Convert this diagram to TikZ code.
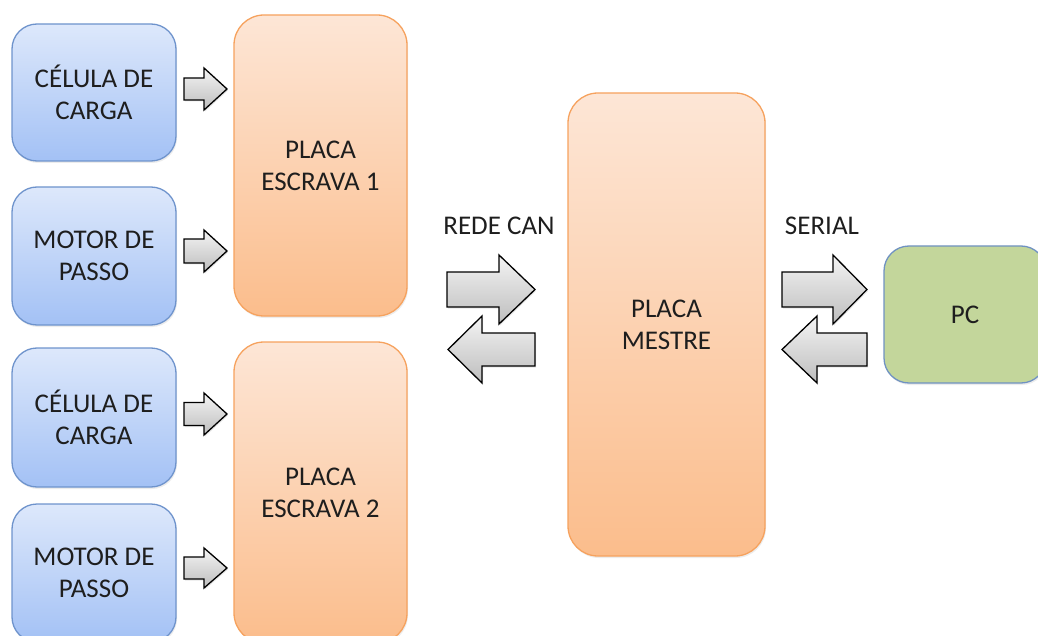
\documentclass[tikz,border=0pt]{standalone}
\usepackage{fontspec}
\setmainfont{Carlito}
\usetikzlibrary{shadows}
\definecolor{txt}{HTML}{1E1E1E}
\definecolor{bluetop}{HTML}{DDE8FB}
\definecolor{bluebot}{HTML}{A3C1F5}
\definecolor{blueline}{HTML}{6E93CC}
\definecolor{orgtop}{HTML}{FDE6D6}
\definecolor{orgbot}{HTML}{FBBD8C}
\definecolor{orgline}{HTML}{F6A25E}
\definecolor{pcfill}{HTML}{C3D69B}
\definecolor{pcline}{HTML}{7092C2}
\definecolor{arrtop}{HTML}{F4F4F4}
\definecolor{arrbot}{HTML}{BDBDBD}
\tikzset{
  boxtext/.style={font=\fontsize{27}{32}\selectfont, text=txt, align=center},
  bluebox/.style={boxtext, draw=blueline, line width=1.3pt, rounded corners=25pt,
    top color=bluetop, bottom color=bluebot, minimum width=164pt,
    drop shadow={shadow xshift=1pt, shadow yshift=-2pt, opacity=0.15}},
  orgbox/.style={boxtext, draw=orgline, line width=1.3pt, rounded corners=30pt,
    top color=orgtop, bottom color=orgbot,
    drop shadow={shadow xshift=1pt, shadow yshift=-2pt, opacity=0.15}},
  pcbox/.style={boxtext, draw=pcline, line width=1.3pt, rounded corners=25pt,
    fill=pcfill, drop shadow={shadow xshift=1pt, shadow yshift=-2pt, opacity=0.15}},
  arrowstyle/.style={draw=black, line width=1.3pt, line join=miter,
    top color=arrtop, bottom color=arrbot,
    drop shadow={shadow xshift=1pt, shadow yshift=-1.5pt, opacity=0.2}},
  lbl/.style={font=\fontsize{27}{32}\selectfont, text=txt}
}
% #1 shaft start x, #2 head base x, #3 tip x, #4 centre y, #5 shaft half height, #6 head half height
\newcommand\blkarrow[6]{%
  \path[arrowstyle] (#1,#4-#5) -- (#2,#4-#5) -- (#2,#4-#6) -- (#3,#4) -- (#2,#4+#6)
    -- (#2,#4+#5) -- (#1,#4+#5) -- cycle;}
\begin{document}
\begin{tikzpicture}[x=1pt,y=-1pt]
\useasboundingbox (0,0) rectangle (1038,636);
\clip (0,0) rectangle (1038,636);

% left input boxes
\node[bluebox, minimum height=137pt] (cel1) at (94,92.5) {CÉLULA DE\\CARGA};
\node[bluebox, minimum height=138pt] (mot1) at (94,256) {MOTOR DE\\PASSO};
\node[bluebox, minimum height=139pt] (cel2) at (94,417.5) {CÉLULA DE\\CARGA};
\node[bluebox, minimum height=138pt] (mot2) at (94,573) {MOTOR DE\\PASSO};

% slave boards
\node[orgbox, minimum width=173pt, minimum height=301pt] (esc1) at (320.5,165.5) {PLACA\\ESCRAVA 1};
\node[orgbox, minimum width=173pt, minimum height=301pt] (esc2) at (320.5,492.5) {PLACA\\ESCRAVA 2};

% master board
\node[orgbox, minimum width=197pt, minimum height=463pt] (mestre) at (666.5,324.5) {PLACA\\MESTRE};

% PC
\node[pcbox, minimum width=162pt, minimum height=137pt] (pc) at (965,314.5) {PC};

% labels
\node[lbl] (can) at (499,226) {REDE CAN};
\node[lbl] (serial) at (822,226) {SERIAL};

% small arrows
\blkarrow{184}{204}{227}{89}{11}{21}
\blkarrow{184}{204}{227}{251}{12}{21}
\blkarrow{184}{204}{227}{414}{11.5}{21}
\blkarrow{184}{204}{227}{568}{11}{20}

% CAN arrows
\blkarrow{447}{499}{535}{289.5}{17.5}{34.5}
\blkarrow{535}{482}{448}{349.5}{16.5}{33.5}

% serial arrows
\blkarrow{782}{833}{867}{289.5}{17.5}{34.5}
\blkarrow{867}{817}{782}{349.5}{16.5}{33.5}
\end{tikzpicture}
\end{document}
